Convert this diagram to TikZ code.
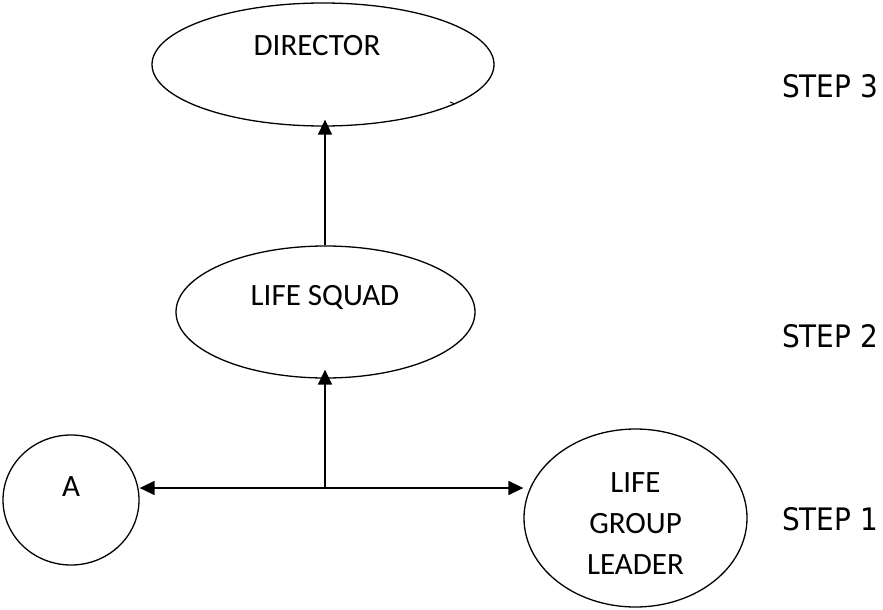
\documentclass[tikz,border=0pt]{standalone}
\usepackage{fontspec}
\setmainfont{Carlito}
\newfontfamily\stepfont[FakeStretch=0.9]{DejaVu Sans}
\usetikzlibrary{shapes.geometric,arrows.meta}
\begin{document}
\begin{tikzpicture}[x=1pt,y=-1pt,
  bubble/.style={ellipse,draw,line width=1.3pt,inner sep=0pt},
  lbl/.style={font=\fontsize{31}{41}\selectfont,align=center,inner sep=0pt},
  steplbl/.style={font=\stepfont\fontsize{31}{36}\selectfont,anchor=base west,inner sep=0pt},
  arr/.style={line width=1.6pt,-{Triangle[length=15pt,width=14pt]}}]
\useasboundingbox (0,0) rectangle (883,610);
\node[bubble,minimum width=342pt,minimum height=123pt] (dir) at (323,64.5) {};
\node[bubble,minimum width=299pt,minimum height=132pt] (squad) at (325.5,312) {};
\node[bubble,minimum width=136pt,minimum height=130pt] (A) at (71,500) {};
\node[bubble,minimum width=223pt,minimum height=178pt] (lgl) at (635.5,518) {};
\node[lbl,anchor=base] (tdir) at (317,56) {DIRECTOR};
\node[lbl,anchor=base] (tsquad) at (325,305) {LIFE SQUAD};
\node[lbl,anchor=base] (tA) at (71,496) {A};
\node[lbl] (tlgl) at (635.5,524) {LIFE\\GROUP\\LEADER};
\node[steplbl] (s3) at (782,97) {STEP 3};
\node[steplbl] (s2) at (782,347) {STEP 2};
\node[steplbl] (s1) at (782,530) {STEP 1};
\coordinate (j) at (325,488);
\draw[arr] (squad.north -| j) -- ([yshift=7pt]dir.south -| j);
\draw[arr] (j) -- ([yshift=9pt]squad.south -| j);
\draw[arr] (j) -- (A.east |- j);
\draw[arr] (j) -- (lgl.west |- j);
\draw[line width=1pt] (450,102) -- (455,104);
\end{tikzpicture}
\end{document}
